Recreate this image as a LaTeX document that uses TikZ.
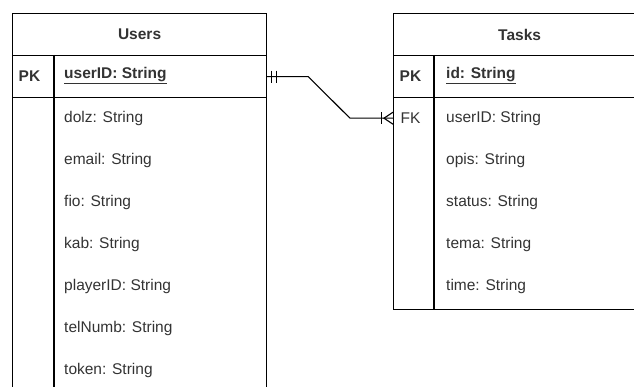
\documentclass[tikz,border=0pt]{standalone}
\usepackage{fontspec}
\setmainfont{Liberation Sans}
\usetikzlibrary{calc}
\definecolor{txt}{HTML}{333333}
\begin{document}
\begin{tikzpicture}[x=1pt,y=-1pt,
  cell/.style={draw=black, line width=1.2pt, rectangle, inner sep=0pt,
    minimum width=254pt, minimum height=42pt, anchor=north west},
  lbl/.style={anchor=west, inner sep=0pt, text=txt,
    font=\fontsize{15.5}{18}\selectfont},
  hdr/.style={inner sep=0pt, text=txt, font=\fontsize{15.5}{18}\selectfont\bfseries},
  rel/.style={draw=black, line width=1.1pt}]
\useasboundingbox (0,0) rectangle (634,387);
\clip (0,0) rectangle (634,387);

% ---- Users table ----
\node[cell] (uHead) at (12,13) {};
\node[cell] (uPK) at (12,55) {};
\node[cell, minimum height=320pt] (uBody) at (12,97) {};
\draw[line width=1.2pt] (54,55) -- (54,400);
\node[hdr] at (uHead.center) {Users};
\node[lbl, font=\fontsize{15.5}{18}\selectfont\bfseries] (uPKk) at (18.5,76) {PK};
\node[lbl, font=\fontsize{15.5}{18}\selectfont\bfseries] (uPKf) at (64,76) {\underline{userID: String}};
\foreach \t [count=\i from 0] in {dolz: String, email: String, fio: String, kab: String,
    playerID: String, telNumb: String, token: String}
  \node[lbl] (uF\i) at (64,118+42*\i) {\t};

% ---- Tasks table ----
\node[cell, minimum width=252pt] (tHead) at (393,13) {};
\node[cell, minimum width=252pt] (tPK) at (393,55) {};
\node[cell, minimum width=252pt, minimum height=212pt] (tBody) at (393,97) {};
\draw[line width=1.2pt] (434,55) -- (434,309);
\node[hdr] at (tHead.center) {Tasks};
\node[lbl, font=\fontsize{15.5}{18}\selectfont\bfseries] (tPKk) at (399.5,76) {PK};
\node[lbl, font=\fontsize{15.5}{18}\selectfont\bfseries] (tPKf) at (446,76) {\underline{id: String}};
\node[inner sep=0pt, minimum width=41pt, minimum height=42pt, anchor=north west] (tFK) at (393,97) {};
\node[lbl] (tFKk) at (400.5,118) {FK};
\foreach \t [count=\i from 0] in {userID: String, opis: String, status: String,
    tema: String, time: String}
  \node[lbl] (tF\i) at (446,118+42*\i) {\t};

% ---- one-to-many relation ----
\coordinate (bendA) at ($(uPK.east)+(41,0)$);
\coordinate (bendB) at ($(tFK.west)+(-43,0)$);
\draw[rel] (uPK.east) -- (bendA) -- (bendB) -- (tFK.west);
% mandatory-one marks
\draw[rel] ($(uPK.east)+(4.5,-6)$) -- ++(0,12);
\draw[rel] ($(uPK.east)+(9,-6)$) -- ++(0,12);
% crow's foot with one mark
\draw[rel] ($(tFK.west)+(-11.5,-6)$) -- ++(0,12);
\draw[rel] ($(tFK.west)+(0,-6)$) -- ($(tFK.west)+(-9,0)$) -- ($(tFK.west)+(0,6)$);
\end{tikzpicture}
\end{document}
